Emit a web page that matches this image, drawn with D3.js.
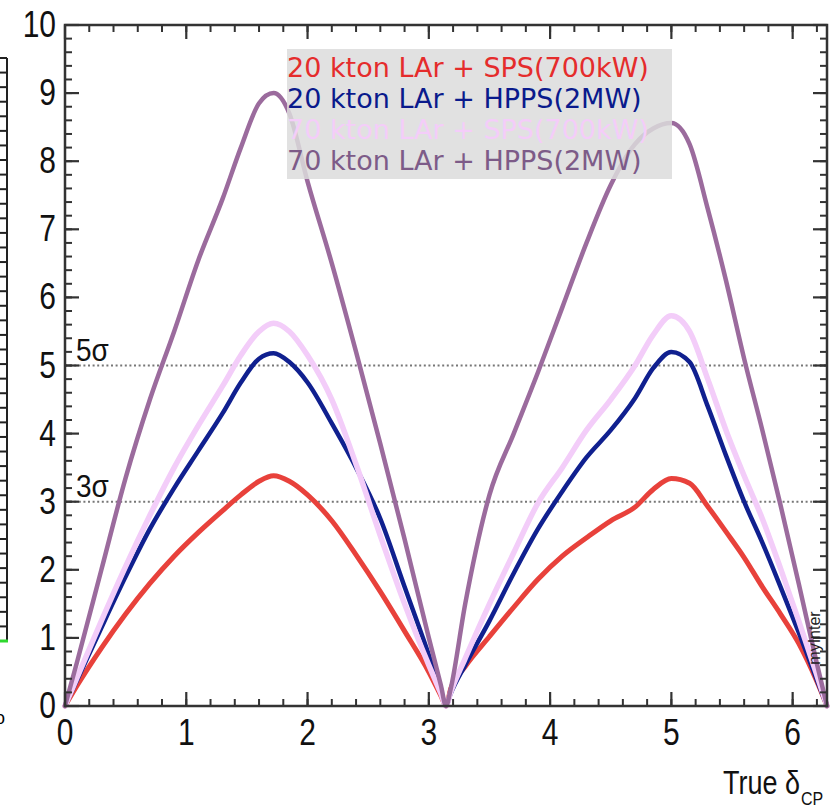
<!DOCTYPE html>
<html>
<head>
<meta charset="utf-8">
<script src="https://cdn.jsdelivr.net/npm/d3@7"></script>
<style>
  html, body { margin: 0; padding: 0; background: #fff; }
  svg { display: block; }
</style>
</head>
<body>
<div id="chart"></div>
<script>
// true delta_CP grid (radians) and significance per configuration
const deltaCP = [0, 0.1, 0.3, 0.5, 0.7, 0.9, 1.1, 1.3, 1.45, 1.6, 1.72, 1.85, 2.0, 2.2, 2.4, 2.6, 2.8, 3.0, 3.1, Math.PI,
  3.18, 3.3, 3.5, 3.7, 3.9, 4.1, 4.3, 4.5, 4.7, 4.85, 5.0, 5.15, 5.3, 5.45, 5.6, 5.75, 5.9, 6.05, 6.2, 2 * Math.PI];

const sig20SPS = [0, 0.3, 0.85, 1.35, 1.8, 2.2, 2.55, 2.87, 3.1, 3.3, 3.38, 3.3, 3.1, 2.72, 2.22, 1.68, 1.1, 0.5, 0.15, 0,
  0.25, 0.58, 1.02, 1.45, 1.86, 2.2, 2.47, 2.72, 2.92, 3.18, 3.34, 3.27, 2.93, 2.56, 2.18, 1.75, 1.35, 0.92, 0.36, 0];
const sig20HPPS = [0, 0.38, 1.15, 1.9, 2.6, 3.2, 3.75, 4.3, 4.75, 5.1, 5.18, 5.05, 4.75, 4.15, 3.5, 2.75, 1.75, 0.75, 0.22, 0,
  0.18, 0.6, 1.25, 1.95, 2.6, 3.15, 3.65, 4.05, 4.52, 4.96, 5.2, 5.05, 4.4, 3.68, 3.0, 2.4, 1.75, 1.08, 0.38, 0];
const sig70SPS = [0, 0.42, 1.25, 2.05, 2.8, 3.5, 4.12, 4.7, 5.15, 5.5, 5.62, 5.5, 5.15, 4.5, 3.55, 2.5, 1.5, 0.6, 0.18, 0,
  0.2, 0.7, 1.5, 2.25, 2.98, 3.5, 4.05, 4.5, 5.0, 5.45, 5.73, 5.5, 4.8, 4.05, 3.38, 2.75, 2.02, 1.25, 0.45, 0];
const sig70HPPS = [0, 0.65, 2.0, 3.35, 4.5, 5.5, 6.55, 7.45, 8.2, 8.85, 9.0, 8.7, 7.7, 6.5, 5.2, 3.85, 2.45, 1.0, 0.3, 0,
  0.25, 1.5, 3.1, 4.0, 4.9, 5.85, 6.8, 7.65, 8.25, 8.48, 8.56, 8.25, 7.3, 6.25, 5.1, 4.05, 2.95, 1.8, 0.62, 0];

const seriesNames = ["20 kton LAr + SPS(700kW)", "20 kton LAr + HPPS(2MW)", "70 kton LAr + SPS(700kW)", "70 kton LAr + HPPS(2MW)"];
const seriesValues = [sig20SPS, sig20HPPS, sig70SPS, sig70HPPS];
const lineColors = ["#e8413b", "#10208f", "#f3cdf9", "#9b6b9d"];
const textColors = ["#e52c2c", "#0a1a8c", "#f4cdf9", "#7d5b88"];
const lineWidths = [5, 4.5, 5.5, 4.5];

const xTicks = [0, 1, 2, 3, 4, 5, 6];
const yTicks = [0, 1, 2, 3, 4, 5, 6, 7, 8, 9, 10];
const sigmaLines = [{ v: 5, label: "5σ" }, { v: 3, label: "3σ" }];

const W = 835, Ht = 810;
const svg = d3.select("#chart").append("svg").attr("width", W).attr("height", Ht);
const x = d3.scaleLinear().domain([0, 2 * Math.PI]).range([65, 827]);
const y = d3.scaleLinear().domain([0, 10]).range([706, 25]);
const axisFont = "'Liberation Sans', Arial, sans-serif";

// leftover edge of the neighbouring figure
const side = d3.scaleLinear().domain([0, 40]).range([58, 641]);
const sideG = svg.append("g").attr("stroke", "#222");
sideG.append("line").attr("x1", 7).attr("x2", 7).attr("y1", side(0)).attr("y2", side(40)).attr("stroke-width", 2);
sideG.selectAll("line.t").data(d3.range(41)).join("line").attr("class", "t")
  .attr("x1", 0).attr("x2", 7).attr("y1", d => side(d)).attr("y2", d => side(d)).attr("stroke-width", 2);
svg.append("line").attr("x1", 0).attr("x2", 8).attr("y1", side(40)).attr("y2", side(40))
  .attr("stroke", "#2fd82f").attr("stroke-width", 3);
svg.append("text").attr("x", -5).attr("y", 724).attr("font-family", axisFont).attr("font-size", 18).text("o");

// sigma reference lines
svg.append("g").selectAll("line").data(sigmaLines).join("line")
  .attr("x1", x(0)).attr("x2", x(2 * Math.PI)).attr("y1", d => y(d.v)).attr("y2", d => y(d.v))
  .attr("stroke", "#777").attr("stroke-width", 2).attr("stroke-dasharray", "2,2.6");
svg.append("g").selectAll("text").data(sigmaLines).join("text")
  .attr("transform", d => `translate(76,${y(d.v) - 5}) scale(1,1.15)`)
  .attr("font-family", axisFont).attr("font-size", 28).attr("fill", "#111").text(d => d.label);

// curves
const line = d3.line().x((d, i) => x(deltaCP[i])).y(d => y(d)).curve(d3.curveMonotoneX);
svg.append("g").attr("fill", "none").attr("stroke-linejoin", "round").attr("stroke-linecap", "round")
  .selectAll("path").data(seriesValues).join("path")
  .attr("d", line).attr("stroke", (d, i) => lineColors[i]).attr("stroke-width", (d, i) => lineWidths[i]);

// frame and ticks (all inward)
const frame = svg.append("g").attr("stroke", "#333");
const minorX = d3.range(0, 6.3, 0.2).filter(v => v <= 2 * Math.PI);
const minorY = d3.range(0, 10.01, 0.2);
function ticks(vals, len, w) {
  frame.append("g").selectAll("line").data(vals).join("line")
    .attr("x1", d => x(d)).attr("x2", d => x(d)).attr("y1", y(0)).attr("y2", y(0) - len).attr("stroke-width", w);
  frame.append("g").selectAll("line").data(vals).join("line")
    .attr("x1", d => x(d)).attr("x2", d => x(d)).attr("y1", y(10)).attr("y2", y(10) + len).attr("stroke-width", w);
}
function ticksY(vals, len, w) {
  frame.append("g").selectAll("line").data(vals).join("line")
    .attr("y1", d => y(d)).attr("y2", d => y(d)).attr("x1", x(0)).attr("x2", x(0) + len).attr("stroke-width", w);
  frame.append("g").selectAll("line").data(vals).join("line")
    .attr("y1", d => y(d)).attr("y2", d => y(d)).attr("x1", x(2 * Math.PI)).attr("x2", x(2 * Math.PI) - len).attr("stroke-width", w);
}
ticks(minorX, 7, 2); ticks(xTicks, 14, 2.2);
ticksY(minorY, 7, 2); ticksY(yTicks, 14, 2.2);
frame.append("rect").attr("x", x(0)).attr("y", y(10)).attr("width", x(2 * Math.PI) - x(0)).attr("height", y(0) - y(10))
  .attr("fill", "none").attr("stroke-width", 2.5);

// tick labels
svg.append("g").selectAll("text").data(yTicks).join("text")
  .attr("transform", d => `translate(56,${y(d) + 12}) scale(1,1.2)`)
  .attr("text-anchor", "end").attr("font-family", axisFont).attr("font-size", 30).attr("fill", "#111").text(d => d);
svg.append("g").selectAll("text").data(xTicks).join("text")
  .attr("transform", d => `translate(${x(d)},745) scale(1,1.2)`)
  .attr("text-anchor", "middle").attr("font-family", axisFont).attr("font-size", 30).attr("fill", "#111").text(d => d);

// axis title
svg.append("text").attr("transform", "translate(800,794) scale(1,1.2)")
  .attr("text-anchor", "end").attr("font-family", axisFont).attr("font-size", 27).attr("fill", "#111").text("True δ");
svg.append("text").attr("transform", "translate(801,805) scale(1,1.15)")
  .attr("font-family", axisFont).attr("font-size", 16).attr("fill", "#111").text("CP");

svg.append("text").attr("transform", "translate(820,638) rotate(-90)").attr("text-anchor", "middle")
  .attr("font-family", axisFont).attr("font-size", 16).attr("fill", "#222").text("myInter");

// legend
const lg = svg.append("g");
lg.append("rect").attr("x", 287).attr("y", 49).attr("width", 385).attr("height", 130)
  .attr("fill", "#dcdcdc").attr("opacity", 0.85);
lg.selectAll("text").data(seriesNames).join("text")
  .attr("x", 287).attr("y", (d, i) => 77 + i * 31)
  .attr("font-family", "'DejaVu Sans', Verdana, sans-serif").attr("font-size", 27)
  .attr("fill", (d, i) => textColors[i]).text(d => d);
</script>
</body>
</html>
